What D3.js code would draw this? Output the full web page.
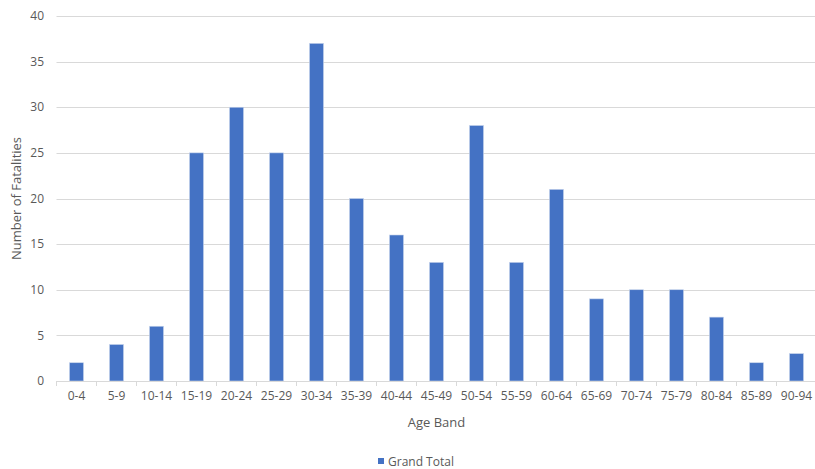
<!DOCTYPE html>
<html><head><meta charset="utf-8">
<script src="https://cdn.jsdelivr.net/npm/d3@7"></script>
<style>body{margin:0;background:#fff;}svg{display:block;font-family:"Open Sans",sans-serif;}</style>
</head><body><svg id="c" width="815" height="469"></svg>
<script>
const categories=["0-4","5-9","10-14","15-19","20-24","25-29","30-34","35-39","40-44","45-49","50-54","55-59","60-64","65-69","70-74","75-79","80-84","85-89","90-94"];
const values=[2,4,6,25,30,25,37,20,16,13,28,13,21,9,10,10,7,2,3];
const yTicks=[0,5,10,15,20,25,30,35,40];
const svg=d3.select("#c");
const L=56.5,R=816.5,T=16,B=381;
const x=d3.scaleBand().domain(categories).range([L,R]).paddingInner(0.65).paddingOuter(0.325);
const xb=d3.scaleBand().domain(categories).range([L,R]);
const y=d3.scaleLinear().domain([0,40]).range([B,T]);
const txt="#595959";
svg.append("g").selectAll("line").data(yTicks.filter(d=>d>0)).join("line")
 .attr("x1",L).attr("x2",R).attr("y1",d=>Math.round(y(d))+0.5).attr("y2",d=>Math.round(y(d))+0.5)
 .attr("stroke","#d9d9d9").attr("stroke-width",1);
svg.append("g").selectAll("text").data(yTicks).join("text")
 .attr("x",44).attr("y",d=>y(d)).attr("dy","0.35em").attr("text-anchor","end")
 .attr("fill",txt).attr("font-size",12).text(d=>d);
svg.append("g").selectAll("rect").data(values).join("rect")
 .attr("x",(d,i)=>x(categories[i])).attr("width",x.bandwidth())
 .attr("y",d=>y(d)).attr("height",d=>B-y(d))
 .attr("fill","#4472c4").attr("stroke","#c5d3ec").attr("stroke-width",0.6);
svg.append("line").attr("x1",L).attr("x2",R).attr("y1",B+0.5).attr("y2",B+0.5).attr("stroke","#d9d9d9");
svg.append("g").selectAll("line").data(categories.concat(["_end"])).join("line")
 .attr("x1",(d,i)=>L+i*xb.step()).attr("x2",(d,i)=>L+i*xb.step())
 .attr("y1",B).attr("y2",B+5).attr("stroke","#d9d9d9");
svg.append("g").selectAll("text").data(categories).join("text")
 .attr("x",d=>xb(d)+xb.bandwidth()/2).attr("y",400).attr("text-anchor","middle")
 .attr("fill",txt).attr("font-size",12).text(d=>d);
svg.append("text").attr("x",(L+R)/2).attr("y",427).attr("text-anchor","middle")
 .attr("fill",txt).attr("font-size",13).text("Age Band");
svg.append("text").attr("transform","translate(21,"+((T+B)/2)+") rotate(-90)")
 .attr("text-anchor","middle").attr("fill",txt).attr("font-size",13).text("Number of Fatalities");
svg.append("rect").attr("x",378).attr("y",458).attr("width",6).attr("height",6).attr("fill","#4472c4");
svg.append("text").attr("x",388).attr("y",466).attr("fill",txt).attr("font-size",12).text("Grand Total");
</script></body></html>
